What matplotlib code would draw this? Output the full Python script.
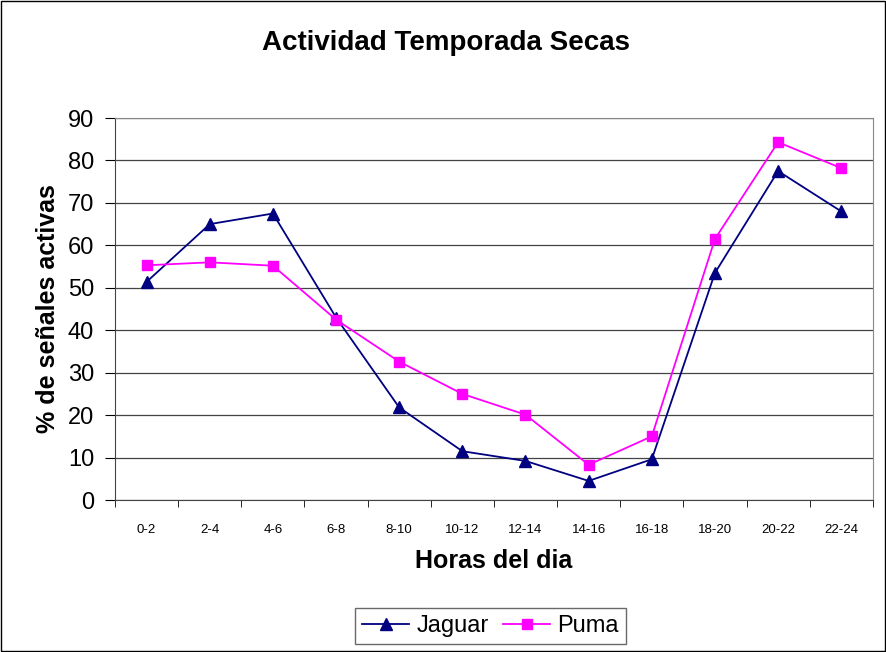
import matplotlib
matplotlib.use("Agg")
from matplotlib import pyplot as plt
from matplotlib.patches import Rectangle

plt.rcParams['font.family'] = ['Liberation Sans', 'DejaVu Sans']

# Data
horas = ["0-2", "2-4", "4-6", "6-8", "8-10", "10-12", "12-14", "14-16",
         "16-18", "18-20", "20-22", "22-24"]
jaguar = [51.4, 65.0, 67.5, 43.0, 21.8, 11.5, 9.2, 4.5, 9.6, 53.5, 77.5, 68.0]
puma = [55.3, 56.0, 55.2, 42.5, 32.6, 25.0, 20.1, 8.3, 15.0, 61.5, 84.3, 78.2]

fig = plt.figure(figsize=(8.87, 6.52), dpi=100)
fig.patches.append(Rectangle((0.001, 0.002), 0.997, 0.996, transform=fig.transFigure,
                             fill=False, edgecolor="black", linewidth=1))

ax = fig.add_axes([0.1297, 0.2331, 0.8543, 0.5859])
x = list(range(len(horas)))
ax.plot(x, jaguar, color="#000080", marker="^", markersize=9, linewidth=1.3,
        label="Jaguar", clip_on=False, zorder=3)
ax.plot(x, puma, color="#ff00ff", marker="s", markersize=7.5, linewidth=1.3,
        label="Puma", clip_on=False, zorder=3)

ax.set_xlim(-0.5, len(horas) - 0.5)
ax.set_ylim(0, 90)
ax.set_yticks(range(0, 91, 10))
ax.tick_params(axis="y", labelsize=17, length=7, direction="out", pad=8)
ax.set_xticks(x)
ax.set_xticklabels(horas, fontsize=9.5)
ax.tick_params(axis="x", which="major", length=0, pad=17)
ax.set_xticks([i - 0.5 for i in range(len(horas) + 1)], minor=True)
ax.tick_params(axis="x", which="minor", length=5, direction="out")
ax.yaxis.grid(True, color="#444444", linewidth=0.9)
ax.set_axisbelow(True)
for s in ["top", "right"]:
    ax.spines[s].set_color("#888888")
for s in ["left", "bottom"]:
    ax.spines[s].set_color("#444444")

ax.set_ylabel("% de señales activas", fontsize=18, fontweight="bold", labelpad=6)
fig.text(0.557, 0.139, "Horas del dia", fontsize=18, fontweight="bold",
         ha="center", va="center")
fig.text(0.503, 0.934, "Actividad Temporada Secas", fontsize=20, fontweight="bold",
         ha="center", va="center")

leg = fig.legend(loc="center", bbox_to_anchor=(0.553, 0.0395), ncol=2, fontsize=17,
                 frameon=True, fancybox=False, edgecolor="#444444",
                 handlelength=2.0, columnspacing=0.6, handletextpad=0.3,
                 borderpad=0.3, borderaxespad=0)
leg.get_frame().set_linewidth(1)

fig.savefig("out.png", dpi=100)
